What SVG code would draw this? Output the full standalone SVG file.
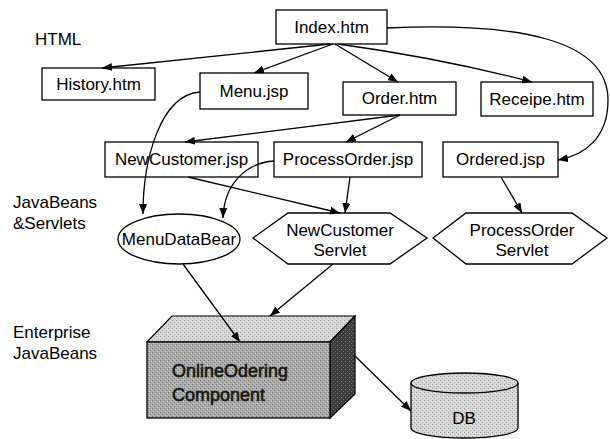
<svg xmlns="http://www.w3.org/2000/svg" width="610" height="439" viewBox="0 0 610 439">
  <style>
    .box { fill: #ffffff; stroke: #000000; stroke-width: 1.3; }
    .lbl { font-family: "Liberation Sans", Arial, sans-serif; font-size: 17px; fill: #000000; }
    .mid { text-anchor: middle; }
    .edge { fill: none; stroke: #000000; stroke-width: 1.3; marker-end: url(#arrow); }
    .comp { font-family: "Liberation Sans", Arial, sans-serif; font-size: 18px; fill: #151515; stroke: #151515; stroke-width: 0.6; }
  </style>
  <defs>
    <marker id="arrow" viewBox="0 0 10 8" refX="10" refY="4" markerWidth="10" markerHeight="8" markerUnits="userSpaceOnUse" orient="auto">
      <path d="M0,0 L10,4 L0,8 Z" fill="#000000"/>
    </marker>
    <!-- dithered shading used on the 3D component and the database -->
    <pattern id="grainLight" width="4" height="4" patternUnits="userSpaceOnUse">
      <rect width="4" height="4" fill="#d6d6d6"/>
      <rect x="0" y="0" width="1" height="1" fill="#9a9a9a"/>
      <rect x="2" y="2" width="1" height="1" fill="#a5a5a5"/>
      <rect x="3" y="1" width="1" height="1" fill="#f2f2f2"/>
    </pattern>
    <pattern id="grainMid" width="4" height="4" patternUnits="userSpaceOnUse">
      <rect width="4" height="4" fill="#ababab"/>
      <rect x="0" y="0" width="1" height="1" fill="#6e6e6e"/>
      <rect x="2" y="2" width="1" height="1" fill="#777777"/>
      <rect x="1" y="3" width="1" height="1" fill="#d0d0d0"/>
      <rect x="3" y="1" width="1" height="1" fill="#cccccc"/>
    </pattern>
    <pattern id="grainDark" width="4" height="4" patternUnits="userSpaceOnUse">
      <rect width="4" height="4" fill="#3c3c3c"/>
      <rect x="1" y="1" width="1" height="1" fill="#7a7a7a"/>
      <rect x="3" y="3" width="1" height="1" fill="#666666"/>
    </pattern>
  </defs>

  <rect width="610" height="439" fill="#ffffff"/>

  <!-- tier labels -->
  <g id="tier-labels">
    <text class="lbl" x="35" y="45">HTML</text>
    <text class="lbl" x="13" y="208">JavaBeans</text>
    <text class="lbl" x="13" y="229">&amp;Servlets</text>
    <text class="lbl" x="13" y="338">Enterprise</text>
    <text class="lbl" x="13" y="359">JavaBeans</text>
  </g>

  <!-- HTML pages -->
  <g id="index-htm">
    <rect class="box" x="276" y="10" width="111" height="34"/>
    <text class="lbl mid" x="331.5" y="33">Index.htm</text>
  </g>
  <g id="history-htm">
    <rect class="box" x="42" y="68" width="113" height="32"/>
    <text class="lbl mid" x="98.5" y="90">History.htm</text>
  </g>
  <g id="menu-jsp">
    <rect class="box" x="200" y="73" width="108" height="36"/>
    <text class="lbl mid" x="254" y="97">Menu.jsp</text>
  </g>
  <g id="order-htm">
    <rect class="box" x="343" y="82" width="113" height="33"/>
    <text class="lbl mid" x="399.5" y="104">Order.htm</text>
  </g>
  <g id="receipe-htm">
    <rect class="box" x="481" y="82" width="112" height="34"/>
    <text class="lbl mid" x="537" y="105">Receipe.htm</text>
  </g>
  <g id="newcustomer-jsp">
    <rect class="box" x="105" y="142" width="153" height="35"/>
    <text class="lbl mid" x="181.5" y="165">NewCustomer.jsp</text>
  </g>
  <g id="processorder-jsp">
    <rect class="box" x="274" y="142" width="148" height="35"/>
    <text class="lbl mid" x="348" y="165">ProcessOrder.jsp</text>
  </g>
  <g id="ordered-jsp">
    <rect class="box" x="443" y="142" width="115" height="35"/>
    <text class="lbl mid" x="500.5" y="165">Ordered.jsp</text>
  </g>

  <!-- beans and servlets -->
  <g id="menudatabear">
    <ellipse class="box" cx="179" cy="239" rx="61" ry="25"/>
    <text class="lbl mid" x="179" y="245">MenuDataBear</text>
  </g>
  <g id="newcustomer-servlet">
    <polygon class="box" points="253,238 288,213 390,213 427,238 390,264 288,264"/>
    <text class="lbl mid" x="340" y="236">NewCustomer</text>
    <text class="lbl mid" x="340" y="256">Servlet</text>
  </g>
  <g id="processorder-servlet">
    <polygon class="box" points="433,238 466,213 572,213 607,238 572,264 466,264"/>
    <text class="lbl mid" x="522" y="236">ProcessOrder</text>
    <text class="lbl mid" x="522" y="256">Servlet</text>
  </g>

  <!-- enterprise bean component drawn as a box -->
  <g id="online-ordering-component">
    <polygon points="147,342 172,316 355,316 330,342" fill="url(#grainLight)" stroke="#000000" stroke-width="1.2"/>
    <polygon points="330,342 355,316 355,394 330,418" fill="url(#grainDark)" stroke="#000000" stroke-width="1.2"/>
    <rect x="147" y="342" width="183" height="76" fill="url(#grainMid)" stroke="#000000" stroke-width="1.3"/>
    <text class="comp" x="172" y="377">OnlineOdering</text>
    <text class="comp" x="172" y="401">Component</text>
  </g>

  <!-- database cylinder -->
  <g id="db">
    <path d="M411,383 L411,428 A53.5,10 0 0 0 518,428 L518,383" fill="url(#grainLight)" stroke="#000000" stroke-width="1.3"/>
    <ellipse cx="464.5" cy="383" rx="53.5" ry="10" fill="url(#grainLight)" stroke="#000000" stroke-width="1.3"/>
    <text class="lbl mid" x="464" y="424">DB</text>
  </g>

  <!-- connectors, drawn over the nodes they pass across -->
  <g id="connectors">
    <path class="edge" d="M330,44 L102,68"/>
    <path class="edge" d="M333,44 L254,73"/>
    <path class="edge" d="M335,44 L398,82"/>
    <path class="edge" d="M338,44 Q440,58 532,82"/>
    <path class="edge" d="M387,28 C520,22 608,40 608,100 C608,138 585,155 558,160"/>
    <path class="edge" d="M200,92 C160,95 143,160 143,214"/>
    <path class="edge" d="M400,115 L185,142"/>
    <path class="edge" d="M400,115 L346,142"/>
    <path class="edge" d="M274,161 C245,163 224,185 223,218"/>
    <path class="edge" d="M188,177 L340,213"/>
    <path class="edge" d="M350,177 L345,213"/>
    <path class="edge" d="M501,177 L522,213"/>
    <path class="edge" d="M183,264 L240,342"/>
    <path class="edge" d="M333,264 L270,316"/>
    <path class="edge" d="M355,356 L411,411"/>
  </g>
</svg>
